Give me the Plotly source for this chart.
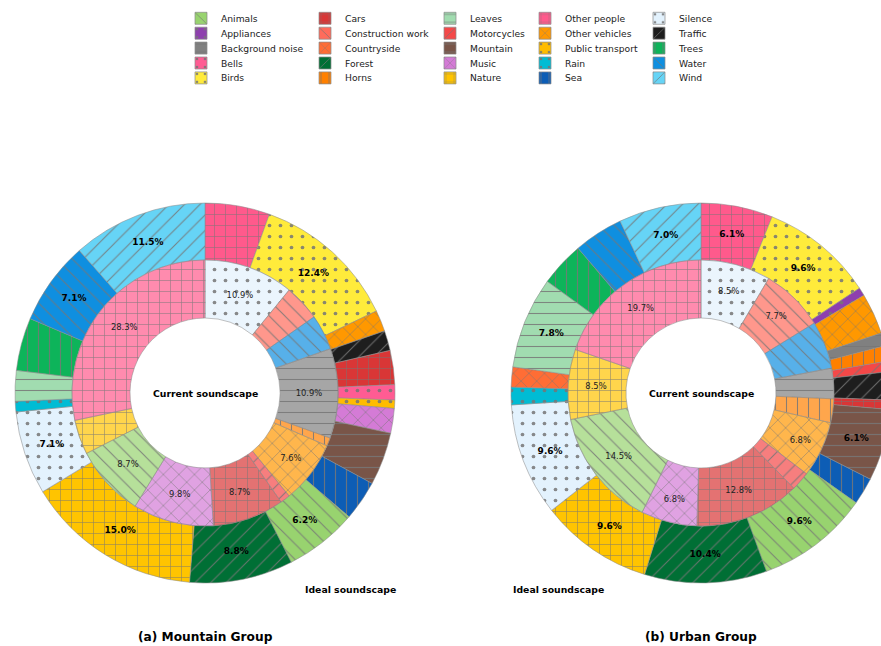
import plotly.graph_objects as go

# ---------------------------------------------------------------- data
categories = [
    "Animals", "Appliances", "Background noise", "Bells", "Birds",
    "Cars", "Construction work", "Countryside", "Forest", "Horns",
    "Leaves", "Motorcycles", "Mountain", "Music", "Nature",
    "Other people", "Other vehicles", "Public transport", "Rain", "Sea",
    "Silence", "Traffic", "Trees", "Water", "Wind",
]

# Mountain group: ideal (outer ring) and current (inner ring), in %
mountain_ideal_labels = [
    "Other people", "Birds", "Other vehicles", "Traffic", "Cars", "Bells",
    "Public transport", "Music", "Mountain", "Sea", "Animals", "Forest",
    "Nature", "Silence", "Rain", "Leaves", "Trees", "Water", "Wind",
]
mountain_ideal_values = [5.5, 12.4, 1.8, 1.7, 2.9, 1.3, 0.7, 2.1, 4.5, 3.4,
                         6.2, 8.8, 15.0, 7.1, 0.9, 2.6, 4.5, 7.1, 11.5]

mountain_current_labels = [
    "Silence", "Construction work", "Water", "Background noise", "Horns",
    "Other vehicles", "Motorcycles", "Cars", "Music", "Animals", "Nature",
    "Other people",
]
mountain_current_values = [10.9, 4.4, 4.3, 10.9, 1.0, 7.6, 1.2, 8.7, 9.8,
                           8.7, 4.2, 28.3]

# Urban group
urban_ideal_labels = [
    "Other people", "Birds", "Appliances", "Other vehicles",
    "Background noise", "Horns", "Motorcycles", "Traffic", "Cars",
    "Mountain", "Sea", "Animals", "Forest", "Nature", "Silence", "Rain",
    "Countryside", "Leaves", "Trees", "Water", "Wind",
]
urban_ideal_values = [6.1, 9.6, 0.7, 3.5, 1.1, 1.3, 0.9, 2.4, 0.8, 6.1, 2.3,
                      9.6, 10.4, 9.6, 9.6, 1.5, 1.7, 7.8, 3.8, 4.2, 7.0]

urban_current_labels = [
    "Silence", "Construction work", "Water", "Background noise", "Horns",
    "Other vehicles", "Motorcycles", "Cars", "Music", "Animals", "Nature",
    "Other people",
]
urban_current_values = [8.5, 7.7, 5.8, 3.7, 2.9, 6.8, 2.3, 12.8, 6.8, 14.5,
                        8.5, 19.7]

# ---------------------------------------------------------------- styles
COLORS = {
    "Animals": "#98D36F", "Appliances": "#8E3FAE", "Background noise": "#808080",
    "Bells": "#FF5C93", "Birds": "#FFEB3B", "Cars": "#D93636",
    "Construction work": "#FF6B5B", "Countryside": "#FF6D35", "Forest": "#006F35",
    "Horns": "#FF8000", "Leaves": "#A1DCB0", "Motorcycles": "#F44848",
    "Mountain": "#795548", "Music": "#D47BD6", "Nature": "#FFC400",
    "Other people": "#FF5A8C", "Other vehicles": "#FF9800",
    "Public transport": "#FFBC00", "Rain": "#00BCD4", "Sea": "#0D5DB5",
    "Silence": "#E3F2FD", "Traffic": "#1E1E1E", "Trees": "#0DB45A",
    "Water": "#0F8FE0", "Wind": "#66D4F6",
}
HATCH = {
    "Animals": "\\", "Appliances": ".", "Background noise": "-", "Bells": ".",
    "Birds": ".", "Cars": "+", "Construction work": "\\", "Countryside": "x",
    "Forest": "/", "Horns": "|", "Leaves": "-", "Motorcycles": "/",
    "Mountain": "-", "Music": "x", "Nature": "+", "Other people": "+",
    "Other vehicles": "x", "Public transport": ".", "Rain": ".", "Sea": "|",
    "Silence": ".", "Traffic": "/", "Trees": "|", "Water": "\\", "Wind": "/",
}

FONT = "DejaVu Sans"
W, H = 900, 646
HATCH_COLOR = "#767676"
EDGE = "rgba(140,140,140,0.9)"


def rgba(hex_color, alpha):
    h = hex_color.lstrip("#")
    r, g, b = int(h[0:2], 16), int(h[2:4], 16), int(h[4:6], 16)
    return f"rgba({r},{g},{b},{alpha})"


def solidity(shape):
    return 0.09 if shape == "." else 0.1


def domain(cx, cy, r):
    return dict(x=[(cx - r) / W, (cx + r) / W],
                y=[1 - (cy + r) / H, 1 - (cy - r) / H])


def ring(labels, values, dom, hole, alpha, bold):
    shapes = [HATCH[l] for l in labels]
    text = [f"{v:.1f}%" if v > 6 else "" for v in values]
    return go.Pie(
        labels=labels, values=values, sort=False, direction="clockwise",
        rotation=0, hole=hole, domain=dom, showlegend=False,
        marker=dict(
            colors=[rgba(COLORS[l], alpha) for l in labels],
            line=dict(color=EDGE, width=0.6),
            pattern=dict(shape=shapes, fillmode="overlay", fgcolor=HATCH_COLOR,
                         fgopacity=0.85, size=11,
                         solidity=[solidity(s) for s in shapes]),
        ),
        text=text, textinfo="text", textposition="inside",
        insidetextorientation="horizontal",
        textfont=dict(family=FONT, size=9 if bold else 8.4,
                      color="#000" if bold else "#222",
                      weight="bold" if bold else "normal"),
        hoverinfo="label+value",
    )


fig = go.Figure()

R_OUT, R_MID, R_HOLE = 190, 133, 75
centers = {"mountain": (205, 393), "urban": (701, 393)}

for key, ideal_l, ideal_v, cur_l, cur_v in [
    ("mountain", mountain_ideal_labels, mountain_ideal_values,
     mountain_current_labels, mountain_current_values),
    ("urban", urban_ideal_labels, urban_ideal_values,
     urban_current_labels, urban_current_values),
]:
    cx, cy = centers[key]
    fig.add_trace(ring(ideal_l, ideal_v, domain(cx, cy, R_OUT),
                       R_MID / R_OUT, 1.0, True))
    fig.add_trace(ring(cur_l, cur_v, domain(cx, cy, R_MID),
                       R_HOLE / R_MID, 0.7, False))

# ---------------------------------------------------------------- legend
# one single-entry legend per category, laid out column-major in 5 columns
col_x = [201, 325, 450, 545, 659]      # symbol centres
row_y = [18.3, 33.2, 48.1, 63.0, 77.9]
legends = {}
for i, cat in enumerate(categories):
    col, row = divmod(i, 5)
    name = "legend" if i == 0 else f"legend{i + 1}"
    shape = HATCH[cat]
    fig.add_trace(go.Bar(
        x=[None], y=[None], name=cat, legend=name, showlegend=True,
        marker=dict(color=COLORS[cat], line=dict(color=EDGE, width=0.8),
                    pattern=dict(shape=shape, fillmode="overlay",
                                 fgcolor=HATCH_COLOR, fgopacity=0.85, size=11,
                                 solidity=solidity(shape))),
        hoverinfo="skip",
    ))
    legends[name] = dict(
        x=(col_x[col] - 20) / W, y=1 - row_y[row] / H,
        xanchor="left", yanchor="middle", bgcolor="rgba(0,0,0,0)",
        borderwidth=0, font=dict(family=FONT, size=9.2, color="#222"),
        itemclick=False, itemdoubleclick=False,
    )

# ---------------------------------------------------------------- text
annotations = []
for key, title in [("mountain", "(a) Mountain Group"), ("urban", "(b) Urban Group")]:
    cx, cy = centers[key]
    annotations.append(dict(x=cx / W, y=1 - cy / H, text="<b>Current soundscape</b>",
                            showarrow=False, font=dict(family=FONT, size=9.3, color="#000")))
    annotations.append(dict(x=cx / W, y=1 - 637 / H, text=f"<b>{title}</b>",
                            showarrow=False, font=dict(family=FONT, size=12.2, color="#000")))
annotations.append(dict(x=350 / W, y=1 - 589 / H, text="<b>Ideal soundscape</b>",
                        showarrow=False, font=dict(family=FONT, size=9.3, color="#000")))
annotations.append(dict(x=558 / W, y=1 - 589 / H, text="<b>Ideal soundscape</b>",
                        showarrow=False, font=dict(family=FONT, size=9.3, color="#000")))
for a in annotations:
    a.update(xref="paper", yref="paper", xanchor="center", yanchor="middle")

fig.update_layout(
    width=W, height=H, margin=dict(l=0, r=0, t=0, b=0),
    paper_bgcolor="white", plot_bgcolor="white",
    font=dict(family=FONT),
    xaxis=dict(visible=False), yaxis=dict(visible=False),
    annotations=annotations,
    **legends,
)

fig.write_html(
    "out.html",
    post_script="document.documentElement.style.overflow='hidden';"
                "document.body.style.overflow='hidden';",
)
